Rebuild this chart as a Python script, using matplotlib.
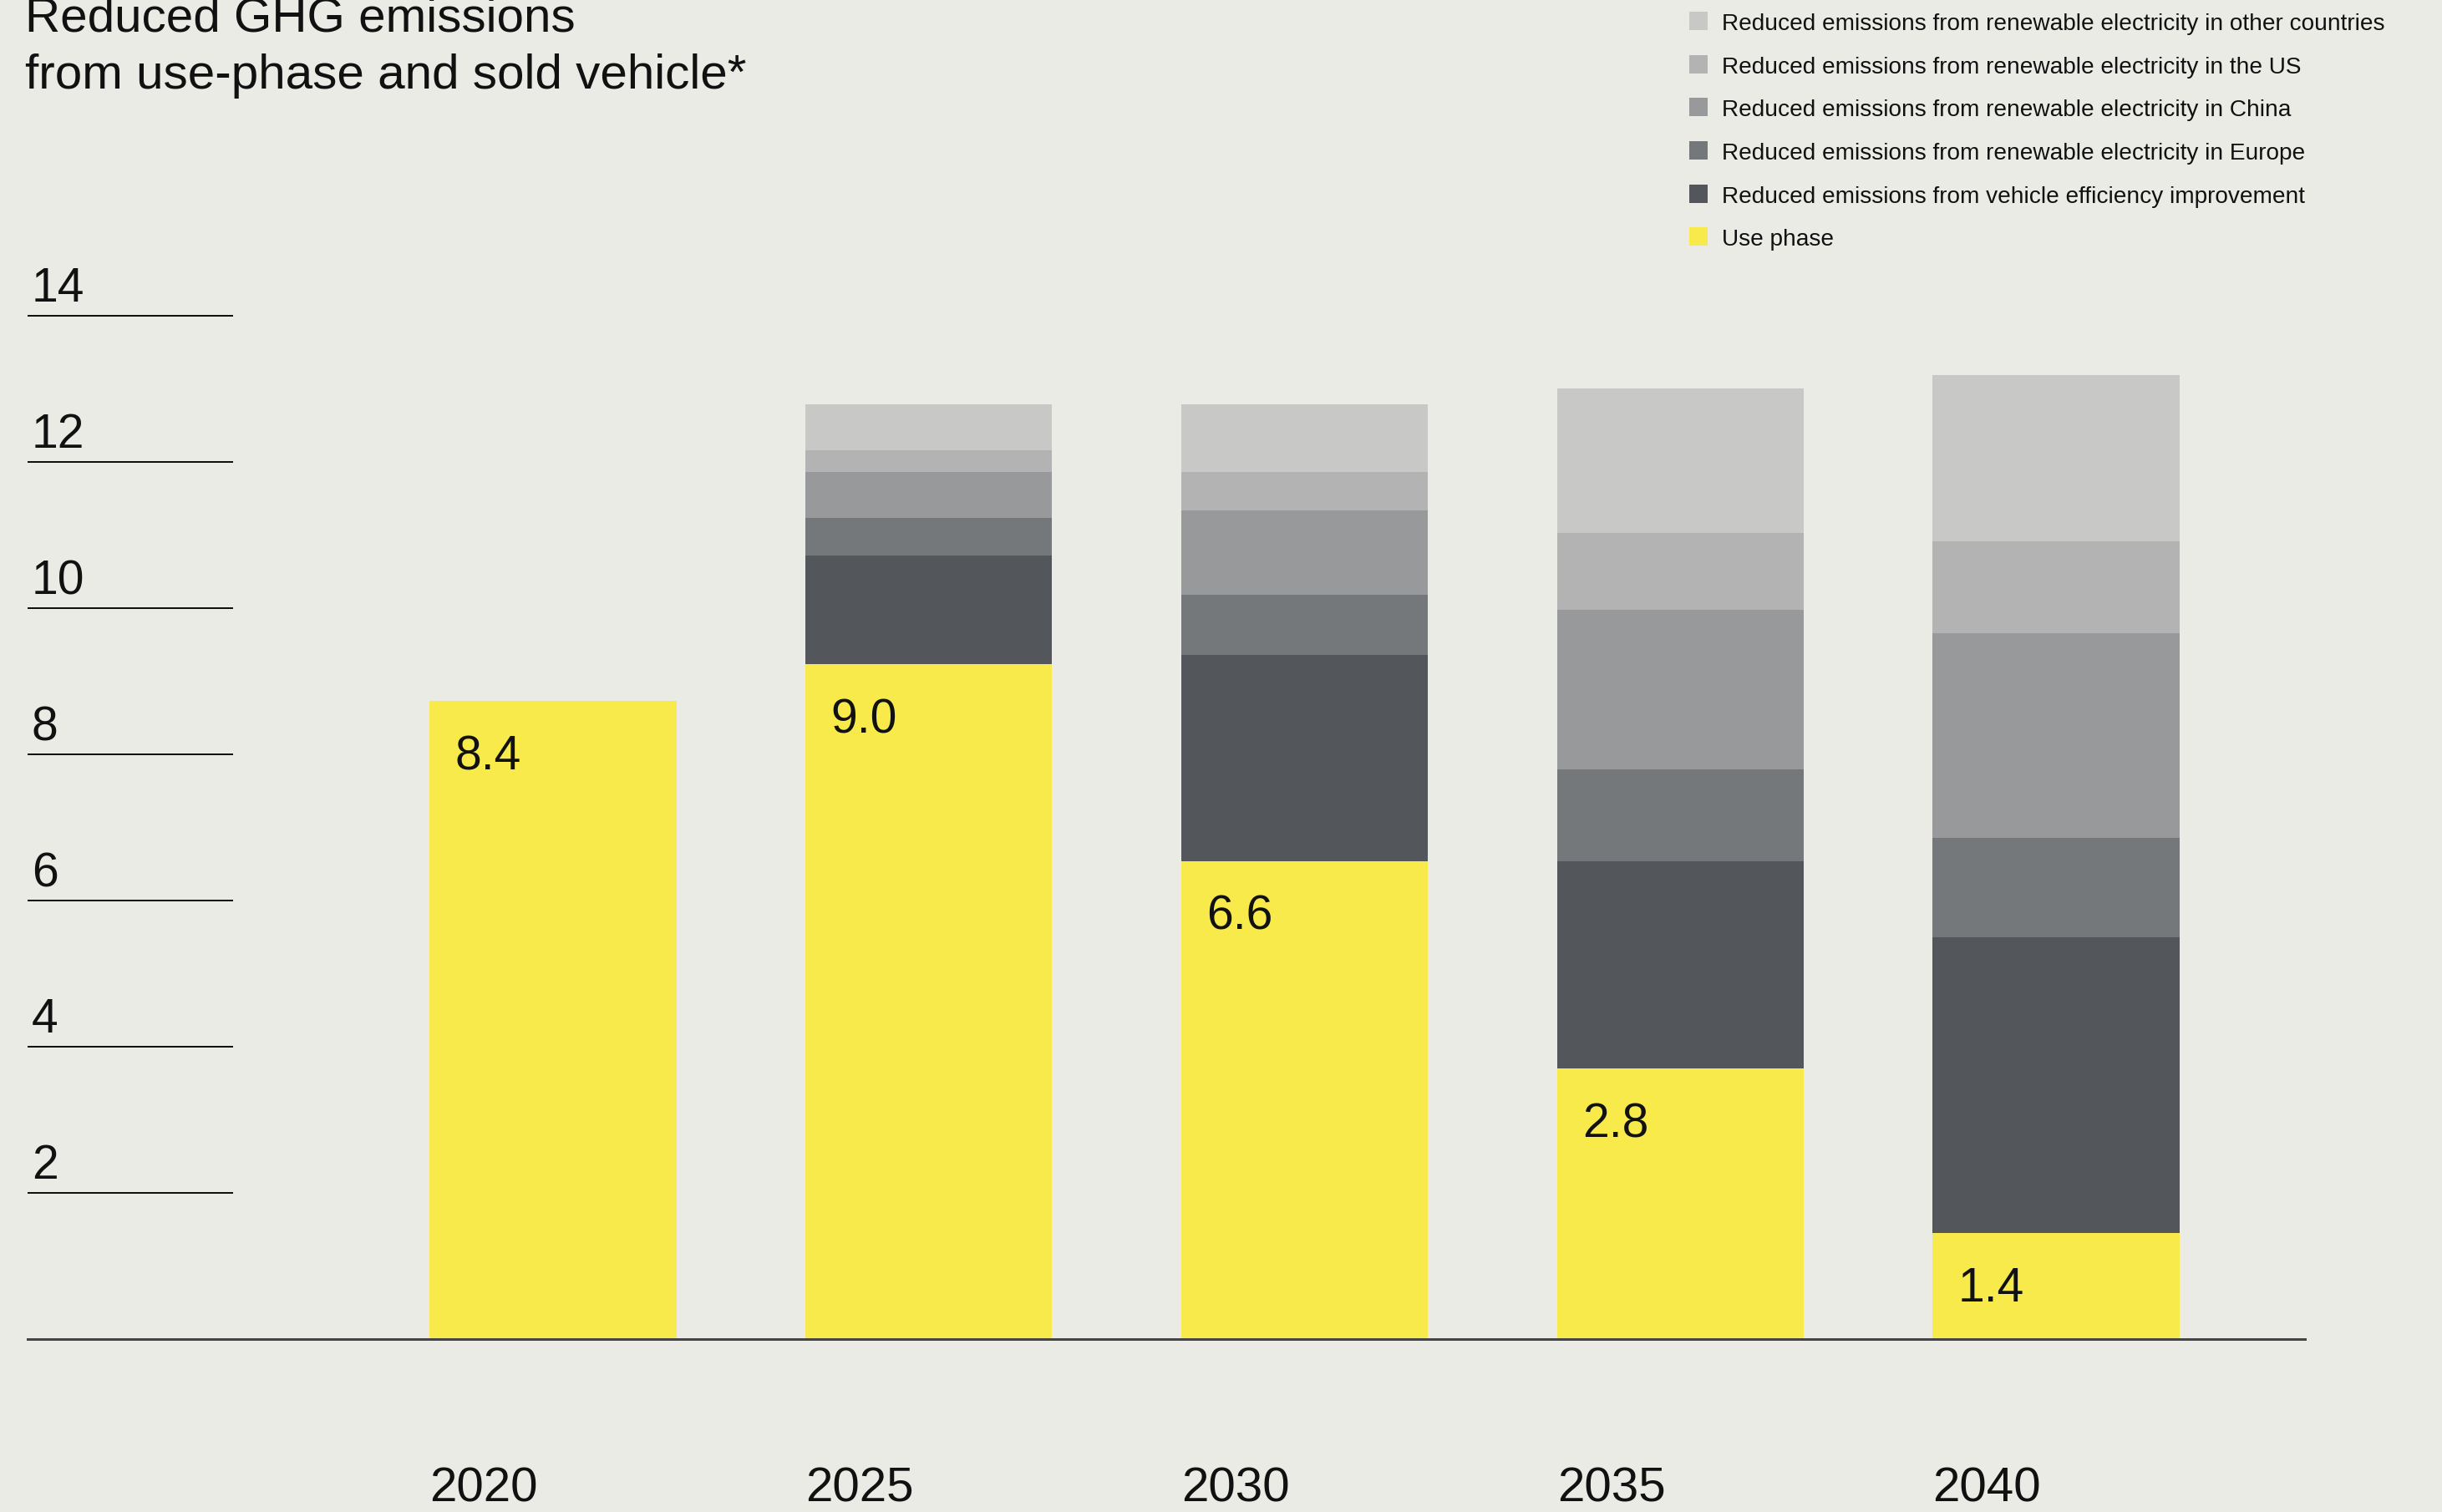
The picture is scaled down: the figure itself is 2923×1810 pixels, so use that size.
import numpy as np
import matplotlib.pyplot as plt
from matplotlib.patches import Rectangle

plt.rcParams['font.family'] = ['Liberation Sans', 'DejaVu Sans']

# data (bar heights as drawn, labels as printed)
years = ['2020', '2025', '2030', '2035', '2040']
use_phase = [8.73, 9.23, 6.54, 3.70, 1.45]
use_phase_labels = ['8.4', '9.0', '6.6', '2.8', '1.4']
vehicle_eff = [0, 1.49, 2.82, 2.84, 4.05]
renew_europe = [0, 0.51, 0.82, 1.25, 1.36]
renew_china = [0, 0.63, 1.16, 2.19, 2.80]
renew_us = [0, 0.30, 0.52, 1.05, 1.25]
renew_other = [0, 0.63, 0.93, 1.97, 2.28]
y_ticks = [2, 4, 6, 8, 10, 12, 14]

series = [
    ('Use phase', use_phase, '#F7EA4A'),
    ('Reduced emissions from vehicle efficiency improvement', vehicle_eff, '#53575C'),
    ('Reduced emissions from renewable electricity in Europe', renew_europe, '#75787B'),
    ('Reduced emissions from renewable electricity in China', renew_china, '#98999B'),
    ('Reduced emissions from renewable electricity in the US', renew_us, '#B2B3B2'),
    ('Reduced emissions from renewable electricity in other countries', renew_other, '#C8C8C6'),
]

bg = '#EBEBE6'
W, H = 2923, 1810
PT = 0.72  # points per pixel at dpi 100

fig = plt.figure(figsize=(W / 100, H / 100), dpi=100, facecolor=bg)
ax = fig.add_axes([33 / W, (H - 1603) / H, (2759 - 33) / W, 1603 / H])
ax.axis('off')

x = np.arange(len(years))
width = 0.656
bottom = np.zeros(len(years))
for name, vals, color in series:
    ax.bar(x, vals, width=width, bottom=bottom, color=color, linewidth=0, label=name)
    bottom += np.array(vals)

ax.set_xlim(-1.3986, 4.6626)
ax.set_ylim(0, 1603 / 87.5)

# short gridlines on the left with labels on top
for v in y_ticks:
    ax.plot([0, 0.0902], [v, v], transform=ax.get_yaxis_transform(),
            color='#111111', lw=2 * PT, solid_capstyle='butt')
    ax.annotate(str(v), xy=(0, v), xycoords=ax.get_yaxis_transform(),
                xytext=(5 * PT, 17 * PT), textcoords='offset points',
                ha='left', va='baseline', fontsize=41, color='#111111')

ax.axhline(0, color='#444444', lw=3 * PT, clip_on=False, zorder=5)

for i, yr in enumerate(years):
    ax.annotate(yr, xy=(x[i] - width / 2, 0), xytext=(0, -194.7 * PT),
                textcoords='offset points', ha='left', va='baseline',
                fontsize=42, color='#111111')
    ax.annotate(use_phase_labels[i], xy=(x[i] - width / 2, use_phase[i]),
                xytext=(30.5 * PT, -82 * PT), textcoords='offset points',
                ha='left', va='baseline', fontsize=41, color='#111111')

# title
fig.text(30 / W, 1 - 38 / H, 'Reduced GHG emissions', fontsize=42,
         va='baseline', ha='left', color='#111111')
fig.text(30 / W, 1 - 106 / H, 'from use-phase and sold vehicle*', fontsize=42,
         va='baseline', ha='left', color='#111111')

# legend, top entry first
for i, (name, vals, color) in enumerate(series[::-1]):
    top = 14 + i * 51.7
    fig.patches.append(Rectangle((2022 / W, 1 - (top + 22) / H), 22 / W, 22 / H,
                                 transform=fig.transFigure, color=color, lw=0))
    fig.text(2061 / W, 1 - (36 + i * 51.7) / H, name, fontsize=20.2,
             va='baseline', ha='left', color='#111111')

fig.savefig('out.png', dpi=100, facecolor=bg)
